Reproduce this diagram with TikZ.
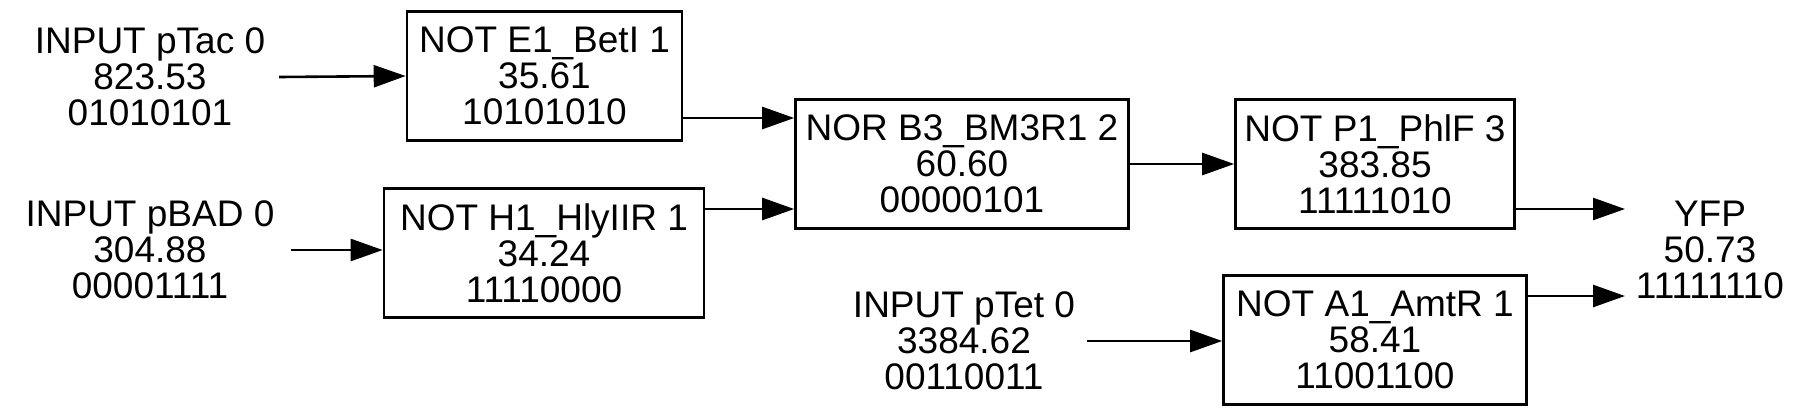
\documentclass[tikz,border=0pt]{standalone}
\usepackage{fontspec}
\setmainfont{Liberation Sans}
\usetikzlibrary{arrows.meta}
\begin{document}
\begin{tikzpicture}[x=1pt,y=-1pt,
  lbl/.style={font=\fontsize{37}{36}\selectfont, align=center, inner sep=0pt},
  gate/.style={lbl, draw, line width=2.6pt, minimum height=129pt},
  arr/.style={line width=2.6pt, -{Triangle[length=32pt,width=22pt]}}]
\useasboundingbox (0,0) rectangle (1810,416);
% inputs
\node[lbl, minimum width=258pt] (pTac) at (150,77) {INPUT pTac 0\\823.53\\01010101};
\node[lbl, minimum width=282pt] (pBAD) at (150,250) {INPUT pBAD 0\\304.88\\00001111};
\node[lbl, minimum width=246pt] (pTet) at (964,341) {INPUT pTet 0\\3384.62\\00110011};
% gates
\node[gate, minimum width=275pt] (E1) at (544.5,76) {NOT E1\_BetI 1\\35.61\\10101010};
\node[gate, minimum width=320pt] (H1) at (544,253) {NOT H1\_HlyIIR 1\\34.24\\11110000};
\node[gate, minimum width=333pt] (NOR) at (962,164) {NOR B3\_BM3R1 2\\60.60\\00000101};
\node[gate, minimum width=279pt] (P1) at (1375,164) {NOT P1\_PhlF 3\\383.85\\11111010};
\node[gate, minimum width=303pt] (A1) at (1375,340) {NOT A1\_AmtR 1\\58.41\\11001100};
% output
\node[lbl] (YFP) at (1710,250) {YFP\\50.73\\11111110};
\coordinate (yin1) at (1625,209);
\coordinate (yin2) at (1625,296);
% connectors
\draw[arr] (pTac.east) -- (E1.west);
\draw[arr] (pBAD.east) -- (pBAD.east -| H1.west);
\draw[arr] (pTet.east) -- (pTet.east -| A1.west);
\draw[arr] ([yshift=-42pt]E1.east) -- ([yshift=-42pt]E1.east -| NOR.west);
\draw[arr] ([yshift=44pt]H1.east) -- ([yshift=44pt]H1.east -| NOR.west);
\draw[arr] (NOR.east) -- (P1.west);
\draw[arr] (yin1 -| P1.east) -- (yin1);
\draw[arr] (yin2 -| A1.east) -- (yin2);
\end{tikzpicture}
\end{document}
